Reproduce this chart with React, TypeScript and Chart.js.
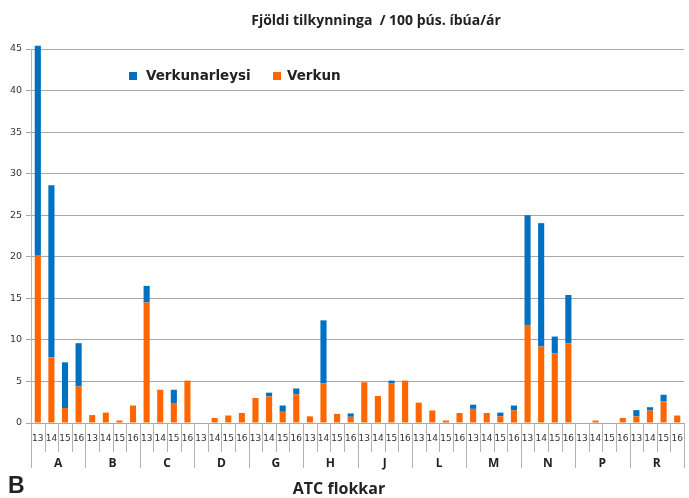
import React, { useEffect, useRef } from "react";
import { Chart, registerables } from "chart.js";

Chart.register(...registerables);

const groups = ["A", "B", "C", "D", "G", "H", "J", "L", "M", "N", "P", "R"];
const years = ["13", "14", "15", "16"];

// Verkun (orange, bottom) per group, years 13..16
const verkun = [
  20.2, 7.9, 1.8, 4.4,
  0.95, 1.25, 0.3, 2.1,
  14.5, 4.0, 2.4, 5.1,
  0, 0.6, 0.9, 1.2,
  3.0, 3.2, 1.35, 3.45,
  0.8, 4.75, 1.1, 0.75,
  4.9, 3.25, 4.75, 5.1,
  2.45, 1.5, 0.3, 1.2,
  1.7, 1.2, 0.8, 1.5,
  11.8, 9.2, 8.4, 9.6,
  0, 0.3, 0, 0.6,
  0.8, 1.5, 2.6, 0.9,
];

// Verkunarleysi (blue, top)
const verkunarleysi = [
  25.2, 20.7, 5.5, 5.2,
  0, 0, 0, 0,
  2.0, 0, 1.6, 0,
  0, 0, 0, 0,
  0, 0.45, 0.75, 0.7,
  0, 7.6, 0, 0.4,
  0, 0, 0.35, 0,
  0, 0, 0, 0,
  0.5, 0, 0.45, 0.6,
  13.2, 14.85, 2.0, 5.8,
  0, 0, 0, 0,
  0.75, 0.4, 0.8, 0,
];

const yTicks = [0, 5, 10, 15, 20, 25, 30, 35, 40, 45];

const titleText = "Fjöldi tilkynninga  / 100 þús. íbúa/ár";
const xTitleText = "ATC flokkar";
const panelLabel = "B";

const ORANGE = "#FF6600";
const BLUE = "#0070C0";

const labels: string[] = [];
groups.forEach(() => years.forEach((y) => labels.push(y)));

const decorPlugin = {
  id: "decor",
  afterDraw(chart: any) {
    const ctx = chart.ctx;
    const xs = chart.scales.x;
    const area = chart.chartArea;
    const n = labels.length;
    const w = xs.getPixelForValue(1) - xs.getPixelForValue(0);
    ctx.save();
    // separators
    ctx.strokeStyle = "#b0b0b0";
    ctx.lineWidth = 1;
    for (let i = 0; i <= n; i++) {
      const x = Math.round(xs.getPixelForValue(Math.min(i, n - 1)) + (i === n ? w / 2 : -w / 2)) + 0.5;
      const isGroup = i % years.length === 0;
      ctx.beginPath();
      ctx.moveTo(x, area.bottom);
      ctx.lineTo(x, area.bottom + (isGroup ? 45 : 29));
      ctx.stroke();
    }
    // group labels
    ctx.fillStyle = "#222";
    ctx.font = "bold 12px 'Open Sans'";
    ctx.textAlign = "center";
    ctx.textBaseline = "middle";
    groups.forEach((g, gi) => {
      const a = xs.getPixelForValue(gi * years.length);
      const b = xs.getPixelForValue(gi * years.length + years.length - 1);
      ctx.fillText(g, (a + b) / 2, area.bottom + 41);
    });
    // title
    ctx.font = "bold 14px 'Open Sans'";
    ctx.fillText(titleText, 376, 21);
    // x title
    ctx.font = "bold 16px 'Open Sans'";
    ctx.fillText(xTitleText, 339, 489);
    // panel label
    ctx.textAlign = "left";
    ctx.font = "bold 23px 'Liberation Sans'";
    ctx.fillText(panelLabel, 8, 487);
    // legend
    const ds = chart.data.datasets;
    const items = [
      { ds: ds[1], bx: 129, tx: 146 },
      { ds: ds[0], bx: 273, tx: 287 },
    ];
    ctx.font = "bold 13.5px 'DejaVu Sans'";
    items.forEach((it) => {
      ctx.fillStyle = it.ds.backgroundColor;
      ctx.fillRect(it.bx, 72, 8, 8);
      ctx.fillStyle = "#222";
      ctx.fillText(it.ds.label, it.tx, 76.5);
    });
    ctx.restore();
  },
};

export default function App() {
  const ref = useRef<HTMLCanvasElement>(null);
  useEffect(() => {
    if (!ref.current) return;
    const chart = new Chart(ref.current, {
      type: "bar",
      data: {
        labels,
        datasets: [
          {
            label: "Verkun",
            data: verkun,
            backgroundColor: ORANGE,
            barPercentage: 0.45,
            categoryPercentage: 1,
            stack: "s",
            clip: false as any,
          },
          {
            label: "Verkunarleysi",
            data: verkunarleysi,
            backgroundColor: BLUE,
            barPercentage: 0.45,
            categoryPercentage: 1,
            stack: "s",
            clip: false as any,
          },
        ],
      },
      options: {
        animation: false,
        responsive: true,
        maintainAspectRatio: false,
        layout: { padding: { top: 49, right: 5, left: 0, bottom: 0 } },
        plugins: {
          legend: { display: false },
          title: { display: false },
          tooltip: { enabled: false },
        },
        scales: {
          x: {
            stacked: true,
            grid: { display: false, drawTicks: false },
            border: { display: false },
            ticks: {
              autoSkip: false,
              maxRotation: 0,
              minRotation: 0,
              padding: 10,
              color: "#333",
              font: { family: "'DejaVu Sans'", size: 9 },
            },
            afterFit: (s: any) => {
              s.height = 75;
              s.paddingLeft = 0;
              s.paddingRight = 0;
            },
          },
          y: {
            stacked: true,
            min: 0,
            max: 45,
            afterBuildTicks: (s: any) => {
              s.ticks = yTicks.map((v) => ({ value: v }));
            },
            grid: { color: "#a8a8a8", tickLength: 5, lineWidth: 1 },
            border: { color: "#b8b8b8" },
            ticks: {
              padding: 4,
              color: "#333",
              font: { family: "'DejaVu Sans'", size: 9.5 },
            },
            afterFit: (s: any) => {
              s.width = 31;
            },
          },
        },
      },
      plugins: [decorPlugin],
    });
    return () => chart.destroy();
  }, []);
  return (
    <div style={{ position: "fixed", left: 0, top: 0, width: 689, height: 498, background: "#fff" }}>
      <canvas ref={ref} />
    </div>
  );
}
